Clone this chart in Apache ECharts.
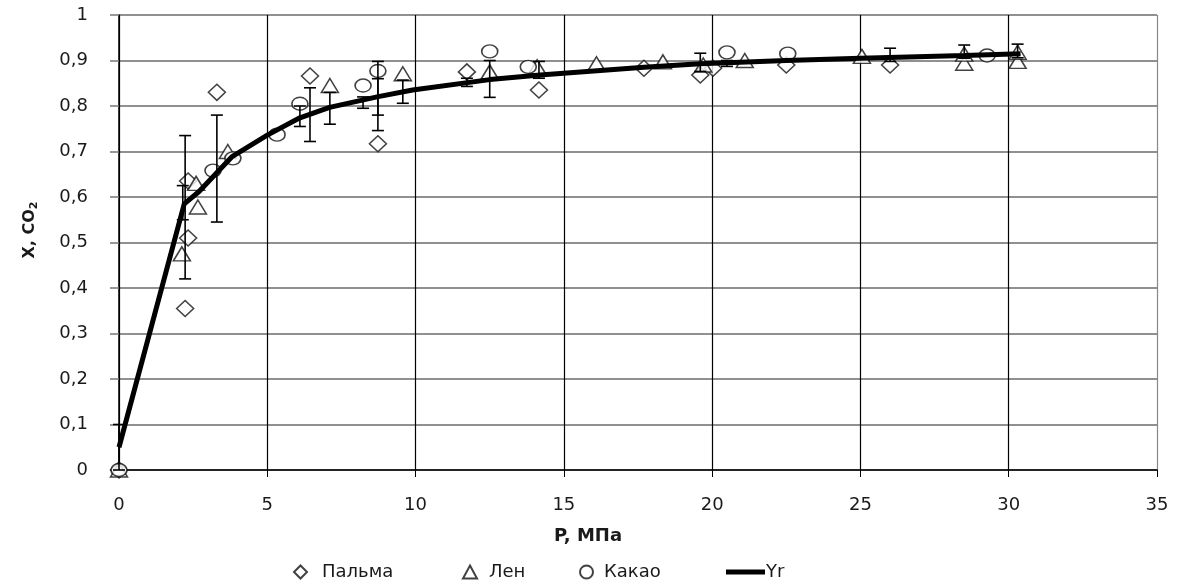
<!DOCTYPE html>
<html lang="ru">
<head>
  <meta charset="UTF-8">
  <title>X, CO2 от P</title>
  <script src="https://cdn.jsdelivr.net/npm/echarts@6/dist/echarts.min.js"></script>
  <style>
    body { margin: 0; background: #fff; }
    #chart { width: 1180px; height: 581px; }
  </style>
</head>
<body>
  <div id="chart"></div>
  <script>
    // данные
    const palmaX = [0, 2.23, 2.33, 2.33, 3.3, 6.44, 8.73, 11.73, 14.16, 17.7, 19.6, 20.03, 22.5, 26.0];
    const palmaY = [0, 0.355, 0.51, 0.635, 0.83, 0.866, 0.717, 0.875, 0.835, 0.883, 0.868, 0.883, 0.89, 0.89];

    const lenX = [0, 2.12, 2.66, 2.6, 3.67, 7.11, 9.57, 12.5, 14.1, 16.1, 18.34, 19.7, 21.1, 25.05, 28.5, 28.5, 30.3, 30.3];
    const lenY = [0, 0.475, 0.578, 0.63, 0.70, 0.845, 0.871, 0.875, 0.886, 0.893, 0.897, 0.89, 0.90, 0.909, 0.894, 0.914, 0.898, 0.918];

    const kakaoX = [0, 3.17, 3.84, 5.33, 6.1, 8.23, 8.73, 12.5, 13.8, 20.5, 22.55, 29.27];
    const kakaoY = [0, 0.658, 0.685, 0.737, 0.805, 0.845, 0.877, 0.92, 0.886, 0.918, 0.915, 0.911];

    const yrX = [0, 2.2, 2.7, 3.8, 5.0, 6.1, 7.1, 8.7, 9.9, 12.5, 14.2, 17.7, 19.6, 22.5, 25, 28.5, 30.4];
    const yrY = [0.05, 0.585, 0.612, 0.688, 0.736, 0.774, 0.797, 0.82, 0.835, 0.858, 0.868, 0.885, 0.893, 0.9, 0.905, 0.911, 0.915];

    // погрешности
    const errX = [0, 2.23, 2.15, 3.3, 6.1, 6.44, 7.11, 8.23, 8.73, 8.73, 9.57, 11.73, 12.5, 14.16, 19.6, 20.5, 26.0, 28.5, 30.3];
    const errLow = [0, 0.42, 0.55, 0.545, 0.755, 0.722, 0.76, 0.795, 0.746, 0.78, 0.806, 0.843, 0.819, 0.861, 0.876, 0.887, 0.898, 0.905, 0.906];
    const errHigh = [0.1, 0.735, 0.625, 0.78, 0.80, 0.84, 0.83, 0.82, 0.898, 0.86, 0.857, 0.861, 0.90, 0.898, 0.916, 0.90, 0.927, 0.934, 0.936];

    const xTicks = [0, 5, 10, 15, 20, 25, 30, 35];

    const zip = (xs, ys) => xs.map((x, i) => [x, ys[i]]);

    const markerStyle = { color: '#fff', borderColor: '#111', borderWidth: 1.5 };
    const font = '"DejaVu Sans", Verdana, sans-serif';
    const legendText = pad => ({ fontSize: 18, color: '#1a1a1a', fontFamily: font, padding: [0, 0, 0, pad] });

    const chart = echarts.init(document.getElementById('chart'));

    const option = {
      animation: false,
      grid: { left: 119, right: 23, top: 15, bottom: 111 },
      xAxis: {
        type: 'value',
        min: 0, max: 35, interval: 5,
        axisLine: { lineStyle: { color: '#000', width: 1.5 } },
        axisTick: { show: true, length: 7, lineStyle: { color: '#000' } },
        axisLabel: {
          margin: 26, fontSize: 18, color: '#1a1a1a', fontFamily: font,
          formatter: v => xTicks.includes(v) ? String(v) : ''
        },
        splitLine: {
          show: true,
          lineStyle: { color: ['#000', '#000', '#000', '#000', '#000', '#000', '#000', '#888'], width: 1.2 }
        }
      },
      yAxis: {
        type: 'value',
        min: 0, max: 1, interval: 0.1,
        axisLine: { show: true, lineStyle: { color: '#000', width: 1.5 } },
        axisTick: { show: true, length: 9, lineStyle: { color: '#777', width: 1.5 } },
        axisLabel: {
          margin: 20,
          formatter: v => '{v|' + String(Math.round(v * 10) / 10).replace('.', ',') + '}',
          rich: {
            v: { fontSize: 18, color: '#1a1a1a', fontFamily: font, padding: [0, 11, 0, 0] }
          }
        },
        splitLine: { show: true, lineStyle: { color: '#909090', width: 1.8 } }
      },
      legend: [
        { data: ['Пальма'], left: 293, top: 563, padding: 0, itemWidth: 13, itemHeight: 13, textStyle: legendText(10) },
        { data: ['Лен'], left: 462, top: 563, padding: 0, itemWidth: 14, itemHeight: 13, textStyle: legendText(7) },
        { data: ['Какао'], left: 579, top: 563, padding: 0, itemWidth: 13, itemHeight: 13, textStyle: legendText(6) },
        { data: ['Yr'], left: 726, top: 563, padding: 0, itemWidth: 39, itemHeight: 5, icon: 'rect',
          itemStyle: { color: '#000' }, textStyle: legendText(-4) }
      ],
      graphic: [
        {
          type: 'text', x: 588, y: 536,
          style: { text: 'P, МПа', fontSize: 18, fontWeight: 'bold', fill: '#1a1a1a', fontFamily: font,
            align: 'center', verticalAlign: 'middle' }
        },
        {
          type: 'text', x: 30, y: 230, rotation: Math.PI / 2,
          style: {
            text: '{a|X, CO}{b|2}', fill: '#1a1a1a', align: 'center', verticalAlign: 'middle',
            rich: {
              a: { fontSize: 16, fontWeight: 'bold', fontFamily: font, fill: '#1a1a1a' },
              b: { fontSize: 11, fontWeight: 'bold', fontFamily: font, fill: '#1a1a1a', padding: [9, 0, 0, 0] }
            }
          }
        }
      ],
      series: [
        {
          name: 'Пальма', type: 'scatter', symbol: 'diamond', symbolSize: [17, 16],
          itemStyle: markerStyle, data: zip(palmaX, palmaY), z: 3
        },
        {
          name: 'Лен', type: 'scatter', symbol: 'triangle', symbolSize: [17, 14],
          itemStyle: markerStyle, data: zip(lenX, lenY), z: 3
        },
        {
          name: 'Какао', type: 'scatter', symbol: 'circle', symbolSize: [16, 13],
          itemStyle: markerStyle, data: zip(kakaoX, kakaoY), z: 3
        },
        {
          name: 'err', type: 'custom', z: 4,
          data: errX.map((x, i) => [x, errLow[i], errHigh[i]]),
          encode: { x: 0, y: [1, 2] },
          renderItem: (params, api) => {
            const x = api.value(0);
            const lo = api.coord([x, api.value(1)]);
            const hi = api.coord([x, api.value(2)]);
            const w = 6;
            const st = { stroke: '#000', lineWidth: 1.6 };
            return {
              type: 'group',
              children: [
                { type: 'line', shape: { x1: hi[0], y1: hi[1], x2: lo[0], y2: lo[1] }, style: st },
                { type: 'line', shape: { x1: hi[0] - w, y1: hi[1], x2: hi[0] + w, y2: hi[1] }, style: st },
                { type: 'line', shape: { x1: lo[0] - w, y1: lo[1], x2: lo[0] + w, y2: lo[1] }, style: st }
              ]
            };
          }
        },
        {
          name: 'Yr', type: 'line', showSymbol: false, symbol: 'none', z: 5,
          lineStyle: { color: '#000', width: 5 }, itemStyle: { color: '#000' },
          data: zip(yrX, yrY)
        }
      ]
    };

    chart.setOption(option);
  </script>
</body>
</html>
